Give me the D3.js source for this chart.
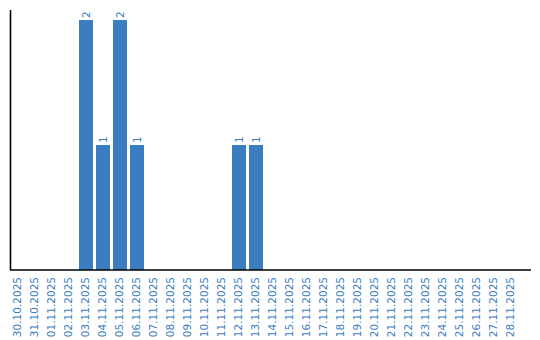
<!DOCTYPE html>
<html><head><meta charset="utf-8">
<script src="https://cdn.jsdelivr.net/npm/d3@7"></script>
<style>body{margin:0;background:#fff}svg{display:block}</style>
</head><body>
<script>
const categories = ["30.10.2025","31.10.2025","01.11.2025","02.11.2025","03.11.2025","04.11.2025","05.11.2025","06.11.2025","07.11.2025","08.11.2025","09.11.2025","10.11.2025","11.11.2025","12.11.2025","13.11.2025","14.11.2025","15.11.2025","16.11.2025","17.11.2025","18.11.2025","19.11.2025","20.11.2025","21.11.2025","22.11.2025","23.11.2025","24.11.2025","25.11.2025","26.11.2025","27.11.2025","28.11.2025"];
const values = [0,0,0,0,2,1,2,1,0,0,0,0,0,1,1,0,0,0,0,0,0,0,0,0,0,0,0,0,0,0];

const W = 540, H = 340;
const color = "#3b7dc1";
const svg = d3.select("body").append("svg").attr("width", W).attr("height", H);

const x = d3.scaleBand().domain(categories).range([11, 518]).paddingInner(3/17).paddingOuter(0);
const y = d3.scaleLinear().domain([0, 2.08]).range([270, 10]);

svg.selectAll("rect.bar").data(categories.map((c,i)=>({c, v: values[i]})).filter(d=>d.v>0))
  .enter().append("rect").attr("class","bar")
  .attr("x", d=>x(d.c)).attr("width", x.bandwidth())
  .attr("y", d=>y(d.v)).attr("height", d=>y(0)-y(d.v))
  .attr("fill", color);

svg.selectAll("text.val").data(categories.map((c,i)=>({c, v: values[i]})).filter(d=>d.v>0))
  .enter().append("text").attr("class","val")
  .attr("transform", d=>`translate(${x(d.c)+x.bandwidth()/2},${y(d.v)-2}) rotate(-90)`)
  .attr("dy","0.35em").attr("text-anchor","start")
  .attr("font-family","DejaVu Sans").attr("font-size","10.5px").attr("fill", color)
  .text(d=>d.v);

// x axis
const xAxis = svg.append("g").attr("transform","translate(0,270)")
  .call(d3.axisBottom(x).tickSize(0).tickPadding(0));
xAxis.select(".domain").remove();
xAxis.selectAll("text")
  .attr("font-family","DejaVu Sans").attr("font-size","10.5px").attr("fill", color)
  .attr("text-anchor","end")
  .attr("transform","rotate(-90)")
  .attr("x", -7).attr("y", -0.5).attr("dy","0.35em");
svg.append("line").attr("x1",10).attr("x2",531).attr("y1",270).attr("y2",270)
  .attr("stroke","#000").attr("stroke-width",1.6);

// y axis line
svg.append("line").attr("x1",10.5).attr("x2",10.5).attr("y1",y(2.08)).attr("y2",y(0))
  .attr("stroke","#000").attr("stroke-width",1.6);
</script>
</body></html>
